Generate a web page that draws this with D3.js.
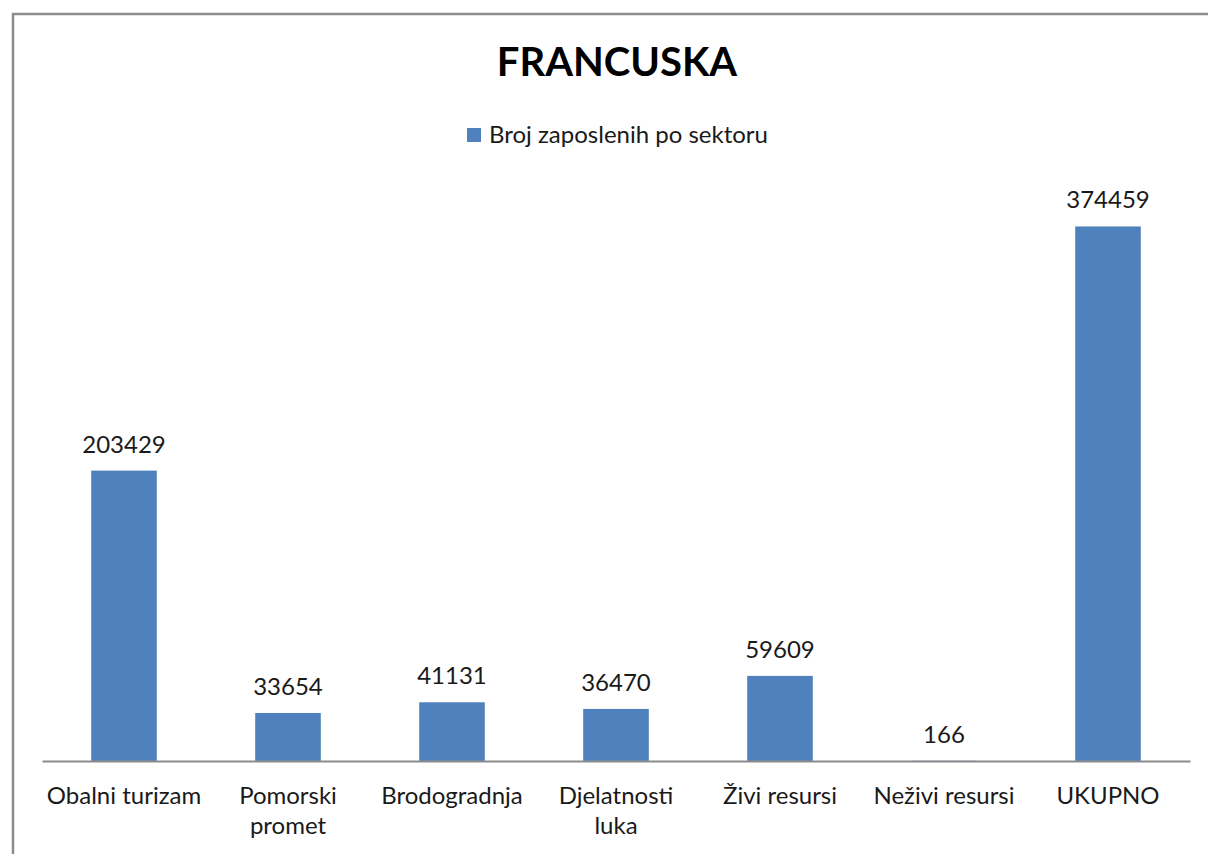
<!DOCTYPE html>
<html>
<head>
<meta charset="utf-8">
<script src="https://cdn.jsdelivr.net/npm/d3@7"></script>
<style>
  body { margin: 0; background: #fff; }
  svg text { font-family: Lato, "Open Sans", sans-serif; fill: #1a1a1a; }
</style>
</head>
<body>
<div id="chart"></div>
<script>
// chart data
const categories = ["Obalni turizam", "Pomorski promet", "Brodogradnja", "Djelatnosti luka", "Živi resursi", "Neživi resursi", "UKUPNO"];
const labelLines = [["Obalni turizam"], ["Pomorski", "promet"], ["Brodogradnja"], ["Djelatnosti", "luka"], ["Živi resursi"], ["Neživi resursi"], ["UKUPNO"]];
const values = [203429, 33654, 41131, 36470, 59609, 166, 374459];
const seriesName = "Broj zaposlenih po sektoru";
const title = "FRANCUSKA";

const W = 1208, H = 854;
const plot = { left: 42, right: 1190, top: 190, bottom: 761 };

const svg = d3.select("#chart")
    .append("svg")
    .attr("width", W)
    .attr("height", H);

// outer chart frame (right and bottom edges lie outside the picture)
svg.append("rect")
    .attr("x", 13).attr("y", 14)
    .attr("width", W).attr("height", H)
    .attr("fill", "none")
    .attr("stroke", "#8c8c8c")
    .attr("stroke-width", 2.5);

// title
svg.append("text")
    .attr("x", 617).attr("y", 76)
    .attr("text-anchor", "middle")
    .style("font-size", "40px")
    .style("font-weight", "bold")
    .style("fill", "#000")
    .text(title);

// legend
svg.append("rect")
    .attr("x", 467).attr("y", 128)
    .attr("width", 14).attr("height", 14)
    .attr("fill", "#4f81bd");
svg.append("text")
    .attr("x", 489).attr("y", 143)
    .style("font-size", "24px")
    .text(seriesName);

// scales
const x = d3.scaleBand()
    .domain(categories)
    .range([plot.left, plot.right])
    .paddingInner(0.6)
    .paddingOuter(0.3);

const y = d3.scaleLinear()
    .domain([0, 400000])
    .range([plot.bottom, plot.top]);

// bars
svg.selectAll("rect.bar")
    .data(values)
    .enter()
    .append("rect")
    .attr("class", "bar")
    .attr("x", (d, i) => x(categories[i]))
    .attr("y", d => y(d))
    .attr("width", x.bandwidth())
    .attr("height", d => y(0) - y(d))
    .attr("fill", "#4f81bd");

// value labels
svg.selectAll("text.val")
    .data(values)
    .enter()
    .append("text")
    .attr("class", "val")
    .attr("x", (d, i) => x(categories[i]) + x.bandwidth() / 2)
    .attr("y", d => y(d) - 18)
    .attr("text-anchor", "middle")
    .style("font-size", "24px")
    .text(d => d);

// x axis
const axis = svg.append("g")
    .attr("transform", `translate(0, ${plot.bottom})`)
    .call(d3.axisBottom(x).tickSize(0).tickFormat(""));
axis.select(".domain")
    .attr("stroke", "#8c8c8c")
    .attr("stroke-width", 2);

// category labels, wrapped as in the original
const cat = svg.selectAll("text.cat")
    .data(categories)
    .enter()
    .append("text")
    .attr("class", "cat")
    .attr("text-anchor", "middle")
    .attr("x", d => x(d) + x.bandwidth() / 2)
    .attr("y", 804)
    .style("font-size", "24px");
cat.each(function (d, i) {
    const t = d3.select(this);
    labelLines[i].forEach((line, j) => {
        t.append("tspan")
            .attr("x", x(d) + x.bandwidth() / 2)
            .attr("dy", j === 0 ? 0 : 30)
            .text(line);
    });
});
</script>
</body>
</html>
